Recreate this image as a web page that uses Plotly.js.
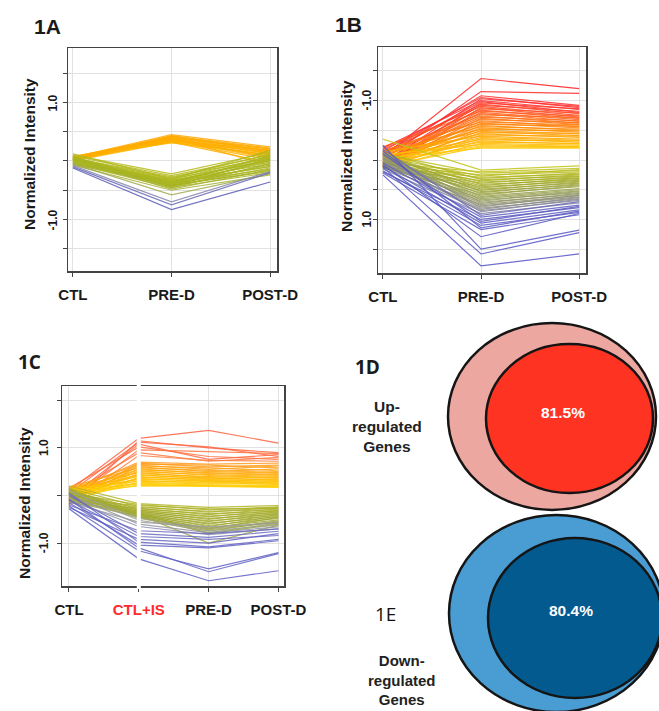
<!DOCTYPE html>
<html><head><meta charset="utf-8">
<script src="https://cdn.plot.ly/plotly-3.0.1.min.js"></script>
<style>html,body{margin:0;padding:0;background:#fff}#chart{width:659px;height:711px}</style>
</head><body><div id="chart"></div>
<script>
// ---------- Panel 1A data (CTL, PRE-D, POST-D) ----------
const A_labels = ['CTL','PRE-D','POST-D'];
const A_CTL  = [0.06,0.04,0.02,0.07,0.00,0.05,0.03,0.08,0.01,0.04,0.06,0.02,0.05,0.03,0.00,0.07,0.04,0.02,0.05,0.03,
                0.10,0.08,0.05,0.03,0.00,-0.02,-0.04,0.06,0.02,-0.05,0.04,0.01,-0.03,0.07,-0.06,0.03,0.00,-0.02,0.05,-0.04,0.02,-0.07,0.12,0.01,-0.01,0.04,
                -0.05,-0.08,-0.10,-0.12];
const A_PRE  = [0.45,0.43,0.42,0.41,0.40,0.39,0.38,0.37,0.36,0.36,0.35,0.34,0.33,0.33,0.32,0.31,0.40,0.38,0.35,0.43,
                -0.22,-0.25,-0.27,-0.29,-0.30,-0.32,-0.33,-0.34,-0.35,-0.36,-0.37,-0.38,-0.39,-0.40,-0.41,-0.42,-0.43,-0.44,-0.45,-0.46,-0.48,-0.50,-0.31,-0.38,-0.35,-0.42,
                -0.58,-0.70,-0.75,-0.83];
const A_POST = [0.24,0.22,0.20,0.18,0.15,0.21,0.12,0.17,0.08,0.14,0.05,0.10,0.02,0.19,-0.03,0.11,-0.08,0.06,0.13,0.16,
                0.15,0.10,0.05,0.12,0.00,0.08,-0.05,0.03,-0.10,0.06,-0.02,-0.14,0.09,-0.07,-0.18,0.01,-0.12,0.04,-0.20,-0.04,-0.15,-0.24,0.18,-0.09,0.02,-0.16,
                -0.22,-0.18,-0.20,-0.36];

// ---------- Panel 1B data (axis reversed: negative = up) ----------
const B_labels = ['CTL','PRE-D','POST-D'];
const B_CTL  = [-0.05,0.00,-0.10,-0.15,0.05,-0.20,-0.08,0.10,-0.12,0.02,-0.18,0.08,-0.05,0.12,-0.22,0.04,-0.10,0.06,-0.14,0.00,0.10,-0.06,0.14,-0.16,0.03,-0.08,0.09,-0.12,0.05,-0.02,0.12,-0.10,0.07,-0.04,0.15,-0.14,0.02,0.10,-0.06,0.08,-0.02,0.13,-0.09,0.04,0.11,-0.03,
                -0.35,0.05,-0.10,0.08,-0.05,0.12,0.00,-0.12,0.06,-0.03,0.10,-0.08,0.04,0.14,-0.06,0.02,0.09,-0.11,0.05,-0.02,0.12,-0.07,0.03,
                0.10,-0.04,0.07,-0.09,0.01,0.13,-0.05,0.06,-0.12,0.03,0.09,-0.02,
                0.15,-0.18,0.05,0.20,-0.10,0.10,0.18,-0.15,0.22,0.08,-0.25,0.12,0.25];
const B_PRE  = [-1.37,-1.15,-1.08,-1.05,-1.03,-1.00,-0.98,-0.96,-0.94,-0.92,-0.90,-0.88,-0.86,-0.84,-0.82,-0.80,-0.78,-0.76,-0.74,-0.72,-0.70,-0.68,-0.66,-0.64,-0.62,-0.60,-0.58,-0.56,-0.54,-0.52,-0.50,-0.48,-0.46,-0.44,-0.42,-0.40,-0.38,-0.36,-0.34,-0.32,-0.30,-0.28,-0.26,-0.24,-0.22,-0.20,
                0.17,0.20,0.22,0.25,0.27,0.29,0.31,0.33,0.35,0.37,0.39,0.41,0.43,0.45,0.47,0.49,0.51,0.53,0.55,0.57,0.59,0.61,0.63,
                0.65,0.67,0.69,0.71,0.73,0.75,0.77,0.79,0.81,0.83,0.85,0.87,
                0.90,0.93,0.96,1.00,1.03,1.06,1.10,1.14,1.17,1.29,1.50,1.58,1.78];
const B_POST = [-1.20,-1.12,-0.92,-0.88,-0.90,-0.85,-0.80,-0.86,-0.78,-0.82,-0.75,-0.72,-0.79,-0.70,-0.74,-0.68,-0.65,-0.71,-0.62,-0.66,-0.60,-0.63,-0.56,-0.59,-0.54,-0.57,-0.50,-0.52,-0.47,-0.49,-0.44,-0.41,-0.45,-0.38,-0.40,-0.35,-0.33,-0.30,-0.32,-0.27,-0.28,-0.25,-0.23,-0.22,-0.21,-0.20,
                0.10,0.14,0.18,0.20,0.16,0.24,0.22,0.27,0.25,0.30,0.28,0.33,0.31,0.36,0.34,0.39,0.37,0.42,0.40,0.45,0.43,0.48,0.50,
                0.52,0.55,0.53,0.58,0.56,0.60,0.62,0.59,0.65,0.63,0.68,0.66,
                0.72,0.70,0.76,0.80,0.78,0.84,0.88,0.86,0.92,0.90,1.18,1.22,1.58];

// ---------- Panel 1C data (CTL, CTL+IS, PRE-D, POST-D) ----------
const C_labels = ['CTL','CTL+IS','PRE-D','POST-D'];
const C_CTL  = [0.10,-0.20,0.05,-0.05,0.15,-0.12,0.02,-0.18,
                0.08,-0.10,0.12,0.00,-0.15,0.05,0.18,-0.06,0.10,-0.12,0.03,0.15,-0.08,0.06,-0.03,0.12,-0.14,0.01,0.09,-0.05,0.14,-0.10,0.04,0.11,-0.02,0.07,
                0.20,0.05,-0.08,0.15,0.00,-0.12,0.10,-0.04,0.07,-0.15,0.02,0.12,-0.06,0.04,-0.10,0.09,-0.02,0.14,-0.13,0.03,-0.07,0.08,-0.03,0.06,
                -0.05,0.10,-0.14,0.02,-0.09,
                -0.20,0.00,-0.10,-0.25,0.05,-0.15,-0.22,-0.08,-0.28];
const C_IS   = [1.20,1.15,1.12,1.08,1.02,0.96,0.90,0.84,
                0.70,0.68,0.66,0.64,0.62,0.60,0.58,0.56,0.54,0.52,0.50,0.48,0.46,0.44,0.42,0.40,0.38,0.36,0.34,0.32,0.30,0.28,0.26,0.24,0.22,0.20,
                -0.17,-0.19,-0.21,-0.23,-0.25,-0.27,-0.28,-0.30,-0.31,-0.33,-0.34,-0.35,-0.37,-0.38,-0.39,-0.40,-0.41,-0.42,-0.43,-0.44,-0.45,-0.46,-0.36,-0.40,
                -0.48,-0.52,-0.56,-0.60,-0.65,
                -0.74,-0.80,-0.86,-0.92,-0.98,-1.04,-1.16,-1.10,-1.33];
const C_PRE  = [1.37,1.00,1.02,0.76,0.82,0.92,0.72,0.74,
                0.66,0.60,0.64,0.55,0.58,0.50,0.53,0.46,0.48,0.42,0.44,0.38,0.40,0.35,0.37,0.32,0.34,0.29,0.31,0.26,0.28,0.24,0.22,0.20,0.21,0.19,
                -0.25,-0.30,-0.28,-0.35,-0.33,-0.40,-0.38,-0.45,-0.43,-0.50,-0.48,-0.55,-0.53,-0.60,-0.58,-0.65,-0.63,-0.70,-0.68,-0.75,-0.72,-0.78,-0.80,-1.00,
                -0.70,-0.74,-0.66,-0.78,-0.82,
                -0.80,-0.88,-0.92,-1.00,-1.08,-1.10,-1.54,-1.60,-1.79];
const C_POST = [1.10,0.90,0.82,0.86,0.76,0.88,0.80,0.72,
                0.68,0.64,0.58,0.62,0.52,0.56,0.48,0.50,0.44,0.46,0.40,0.42,0.36,0.38,0.32,0.34,0.29,0.31,0.26,0.28,0.23,0.25,0.21,0.19,0.18,0.17,
                -0.21,-0.24,-0.27,-0.25,-0.30,-0.28,-0.33,-0.31,-0.36,-0.34,-0.39,-0.37,-0.42,-0.40,-0.45,-0.43,-0.48,-0.46,-0.51,-0.53,-0.56,-0.58,-0.60,-0.62,
                -0.55,-0.62,-0.58,-0.66,-0.70,
                -0.70,-0.75,-0.84,-0.80,-0.92,-0.95,-1.20,-1.22,-1.58];

// ---------- Y tick labels ----------
const AB_ytickvals = [-1.5,-1,-0.5,0,0.5,1,1.5];
const AB_yticktext = ['','-1.0','','','','1.0',''];
const C_ytickvals = [-1,0,1,2];
const C_yticktext = ['-1.0','','1.0',''];

// ---------- Panels 1D / 1E ----------
const D_pct = 81.5;
const E_pct = 80.4;

// ---------- styling ----------
const W = 659, H = 711;
const px = x => x / W, py = y => 1 - y / H;
const FONT = 'Liberation Sans, Arial, sans-serif';
const FONT2 = 'Open Sans, Liberation Sans, sans-serif';

const A_stops = [[-0.9,'#5050b4'],[-0.76,'#6262b8'],[-0.68,'#9090a8'],[-0.58,'#a2aa50'],[-0.45,'#a6b322'],[-0.2,'#b6bc18'],[0.2,'#ffbb00'],[0.45,'#ffa800']];
const B_stops = [[-1.8,'#5252c6'],[-0.95,'#5c5cc0'],[-0.9,'#8080a8'],[-0.8,'#909080'],[-0.66,'#98a058'],[-0.45,'#a2aa2c'],[-0.17,'#c2c418'],[0.2,'#ffc800'],[0.45,'#ffa000'],[0.75,'#ff6a14'],[1.0,'#ff3030'],[1.4,'#ff2020']];
const C_stops = [[-1.4,'#5a5ac8'],[-0.73,'#6a6ac0'],[-0.66,'#8c8cb0'],[-0.5,'#a0a490'],[-0.44,'#a0a838'],[-0.17,'#b0b424'],[0.2,'#ffcf00'],[0.45,'#ffb400'],[0.7,'#ff9a20'],[0.85,'#ff7a40'],[1.2,'#ff6040']];

function hex2rgb(h){return [parseInt(h.slice(1,3),16),parseInt(h.slice(3,5),16),parseInt(h.slice(5,7),16)];}
function grad(v, stops){
  if (v <= stops[0][0]) return stops[0][1];
  if (v >= stops[stops.length-1][0]) return stops[stops.length-1][1];
  for (let i=0;i<stops.length-1;i++){
    const [a,ca]=stops[i],[b,cb]=stops[i+1];
    if (v>=a && v<=b){
      const t=(v-a)/(b-a), A=hex2rgb(ca), B=hex2rgb(cb);
      return 'rgb('+A.map((c,k)=>Math.round(c+(B[k]-c)*t)).join(',')+')';
    }
  }
  return stops[0][1];
}

const traces = [];
function addLines(cols, xs, key, stops, xa, ya){
  const n = cols[0].length;
  for (let i=0;i<n;i++){
    traces.push({type:'scatter', mode:'lines', x:xs, y:cols.map(c=>c[i]),
      xaxis:xa, yaxis:ya, line:{color:grad(key(i),stops), width:1.2}, opacity:0.85,
      hoverinfo:'skip', showlegend:false});
  }
}
addLines([A_CTL,A_PRE,A_POST],[0,1,2], i=>A_PRE[i], A_stops,'x','y');
addLines([B_CTL,B_PRE,B_POST],[0,1,2], i=>-B_PRE[i], B_stops,'x2','y2');
addLines([C_CTL,C_IS,C_PRE,C_POST],[0,1,2,3], i=>C_IS[i], C_stops,'x3','y3');

const axBase = {showgrid:true, gridcolor:'#e2e2e2', gridwidth:1, zeroline:false, showline:true, mirror:true,
  linecolor:'#444', linewidth:1.5, ticks:'outside', ticklen:4, tickcolor:'#444', tickwidth:1, fixedrange:true};
const xFont = {family:FONT, size:15, color:'#1a1a1a', weight:'bold'};
const yFont = {family:FONT, size:12, color:'#1a1a1a', weight:'bold'};

const layout = {
  width:W, height:H, margin:{l:0,r:0,t:0,b:0}, paper_bgcolor:'#fff', plot_bgcolor:'#fff', showlegend:false,
  xaxis: Object.assign({}, axBase, {domain:[px(68),px(277)], range:[-0.05,2.07], anchor:'y',
    tickvals:[0,1,2], ticktext:A_labels, tickfont:xFont, ticklabelstandoff:5}),
  yaxis: Object.assign({}, axBase, {domain:[py(271),py(48)], range:[-1.88,1.93], anchor:'x',
    tickvals:AB_ytickvals, showticklabels:false}),
  xaxis2: Object.assign({}, axBase, {domain:[px(378),px(586)], range:[-0.05,2.07], anchor:'y2',
    tickvals:[0,1,2], ticktext:B_labels, tickfont:xFont, ticklabelstandoff:5}),
  yaxis2: Object.assign({}, axBase, {domain:[py(273),py(47)], range:[1.9,-1.9], anchor:'x2',
    tickvals:AB_ytickvals, showticklabels:false}),
  xaxis3: Object.assign({}, axBase, {domain:[px(62),px(284)], range:[-0.1,3.08], anchor:'y3',
    tickvals:[0,1,2,3], ticktext:C_labels.map(t=>t==='CTL+IS'?'<span style="color:#ff2a2a">'+t+'</span>':t), tickfont:xFont, ticklabelstandoff:5}),
  yaxis3: Object.assign({}, axBase, {domain:[py(586),py(386)], range:[-1.9,2.3], anchor:'x3',
    tickvals:C_ytickvals, showticklabels:false}),
  shapes: [
    {type:'line', xref:'x3', yref:'paper', x0:1, x1:1, y0:py(589), y1:py(383), line:{color:'#ffffff', width:4}, layer:'above'},
    {type:'circle', xref:'paper', yref:'paper', x0:px(448), x1:px(656), y0:py(510), y1:py(323), fillcolor:'#eca7a1', line:{color:'#151515', width:2.5}},
    {type:'circle', xref:'paper', yref:'paper', x0:px(486), x1:px(653), y0:py(493), y1:py(344), fillcolor:'#fe3322', line:{color:'#151515', width:2.5}},
    {type:'circle', xref:'paper', yref:'paper', x0:px(449), x1:px(664), y0:py(712), y1:py(515), fillcolor:'#4a9dd3', line:{color:'#151515', width:2.5}},
    {type:'circle', xref:'paper', yref:'paper', x0:px(488), x1:px(662), y0:py(698), y1:py(538), fillcolor:'#035a8f', line:{color:'#151515', width:2.5}}
  ],
  annotations: []
};

function ann(text, x, y, font, extra){
  layout.annotations.push(Object.assign({text, xref:'paper', yref:'paper', x:px(x), y:py(y), xanchor:'center', yanchor:'middle', showarrow:false, font}, extra||{}));
}
// y tick labels, positioned on each panel's own y axis
function ytick(vals, texts, x, yref){
  vals.forEach((v,i)=>{ if (texts[i]) layout.annotations.push({text:texts[i], xref:'paper', yref:yref, x:px(x), y:v,
    xanchor:'center', yanchor:'middle', showarrow:false, textangle:-90, font:yFont}); });
}
ytick(AB_ytickvals, AB_yticktext, 53, 'y');
ytick(AB_ytickvals, AB_yticktext, 367, 'y2');
ytick(C_ytickvals, C_yticktext, 44, 'y3');

const titleFont = {family:FONT, size:15.5, color:'#1a1a1a', weight:'bold'};
ann('Normalized Intensity', 29, 154, titleFont, {textangle:-90});
ann('Normalized Intensity', 346, 156, titleFont, {textangle:-90});
ann('Normalized Intensity', 25, 503, titleFont, {textangle:-90});
ann('1A', 47, 26, {family:FONT, size:21, color:'#1a1a1a', weight:'bold'});
ann('1B', 348, 25, {family:FONT, size:21, color:'#1a1a1a', weight:'bold'});
ann('1C', 29, 362, {family:FONT2, size:19, color:'#1a1a1a', weight:'bold'});
ann('1D', 367, 367, {family:FONT2, size:19, color:'#1a1a1a', weight:'bold'});
ann('1E', 385, 614, {family:FONT2, size:19, color:'#111', weight:500});
const lblFont = {family:FONT, size:15.5, color:'#222', weight:'bold'};
ann('Up-<br>regulated<br>Genes', 387, 427, lblFont);
ann('Down-<br>regulated<br>Genes', 402, 680, {family:FONT, size:15, color:'#222', weight:'bold'});
const pctFont = {family:FONT, size:15.5, color:'#ffffff', weight:'bold'};
ann(D_pct.toFixed(1)+'%', 563, 412, pctFont);
ann(E_pct.toFixed(1)+'%', 571, 610, pctFont);

Plotly.newPlot('chart', traces, layout, {staticPlot:true, displayModeBar:false});
</script>
</body></html>
